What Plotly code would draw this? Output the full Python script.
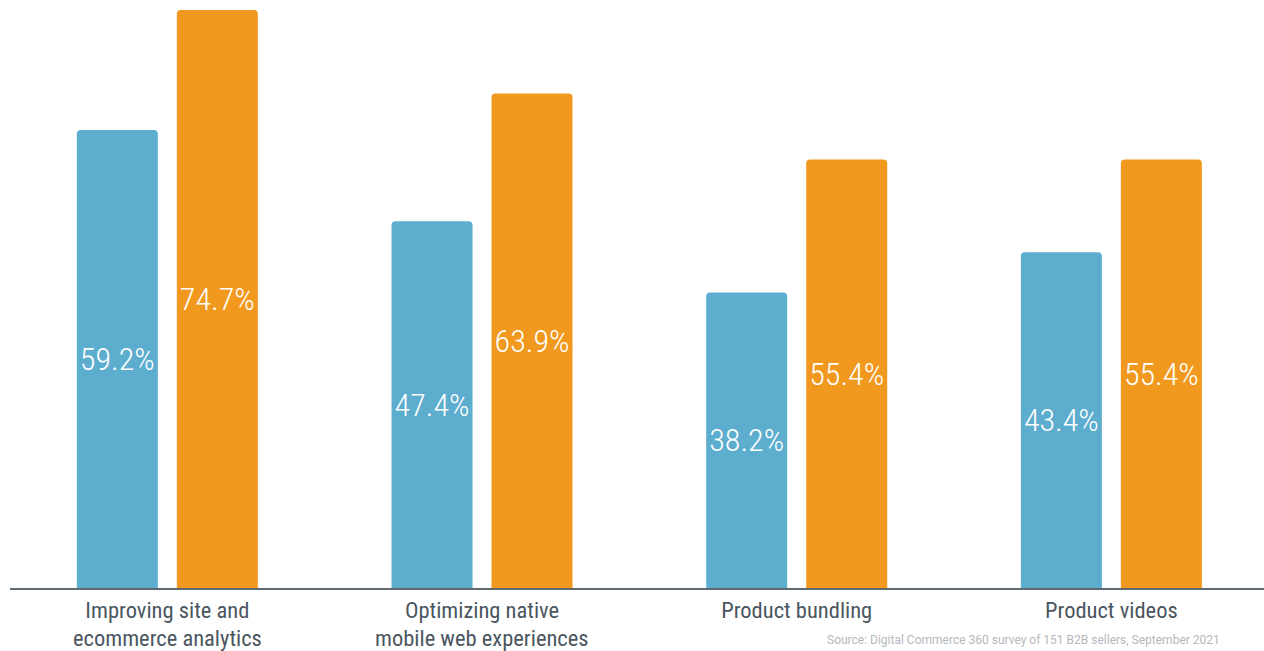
import plotly.graph_objects as go

# category labels, split into their first and second lines
cat_line1 = ["Improving site and", "Optimizing native", "Product bundling", "Product videos"]
cat_line2 = ["ecommerce analytics", "mobile web experiences", "", ""]
series_a = [59.2, 47.4, 38.2, 43.4]
series_b = [74.7, 63.9, 55.4, 55.4]

BLUE = "#5dadcf"
ORANGE = "#f1991f"
AXIS_GREY = "#5f6b73"
TEXT_GREY = "#4a5660"
COND = "Roboto Condensed, DejaVu Sans Condensed, Liberation Sans Narrow, Roboto, sans-serif"

x_idx = list(range(len(cat_line1)))
bar_w = 0.2574
label_font = dict(family=COND, size=41, color="white", weight=300)
cat_font = dict(family=COND, size=22.5, color=TEXT_GREY)

fig = go.Figure()
fig.add_trace(go.Bar(
    x=x_idx, y=series_a, width=bar_w, offset=-0.2876,
    marker=dict(color=BLUE, line=dict(width=0)),
    text=[f"{v:.1f}%" for v in series_a], textposition="inside", textangle=0,
    insidetextanchor="middle", constraintext="none",
    textfont=label_font, hoverinfo="skip",
))
fig.add_trace(go.Bar(
    x=x_idx, y=series_b, width=bar_w, offset=0.0302,
    marker=dict(color=ORANGE, line=dict(width=0)),
    text=[f"{v:.1f}%" for v in series_b], textposition="inside", textangle=0,
    insidetextanchor="middle", constraintext="none",
    textfont=label_font, hoverinfo="skip",
))

# second line of the wrapped category labels, set tighter than a <br> would
for i, line in zip(x_idx, cat_line2):
    if line:
        fig.add_annotation(
            text=line, x=i, xref="x", y=-0.0845, yref="paper",
            xanchor="center", yanchor="middle", showarrow=False, font=cat_font,
        )

fig.add_annotation(
    text="Source: Digital Commerce 360 survey of 151 B2B sellers, September 2021",
    xref="paper", yref="paper", x=0.65, y=-0.0731,
    xanchor="left", yanchor="top", showarrow=False,
    font=dict(family="Roboto, sans-serif", size=12, color="#b5b9bd"),
)

fig.update_layout(
    width=1264, height=651,
    margin=dict(l=10, r=0, t=0, b=63),
    paper_bgcolor="white", plot_bgcolor="white",
    showlegend=False, barmode="overlay", barcornerradius=4,
    xaxis=dict(
        range=[-0.5, 3.485], tickmode="array", tickvals=x_idx, ticktext=cat_line1,
        showgrid=False, zeroline=False, showline=True, linecolor=AXIS_GREY, linewidth=2,
        ticks="", ticklabelstandoff=1, automargin=False, tickfont=cat_font,
    ),
    yaxis=dict(range=[0, 76], visible=False, showgrid=False, zeroline=False, automargin=False),
)

fig.write_html("out.html")
